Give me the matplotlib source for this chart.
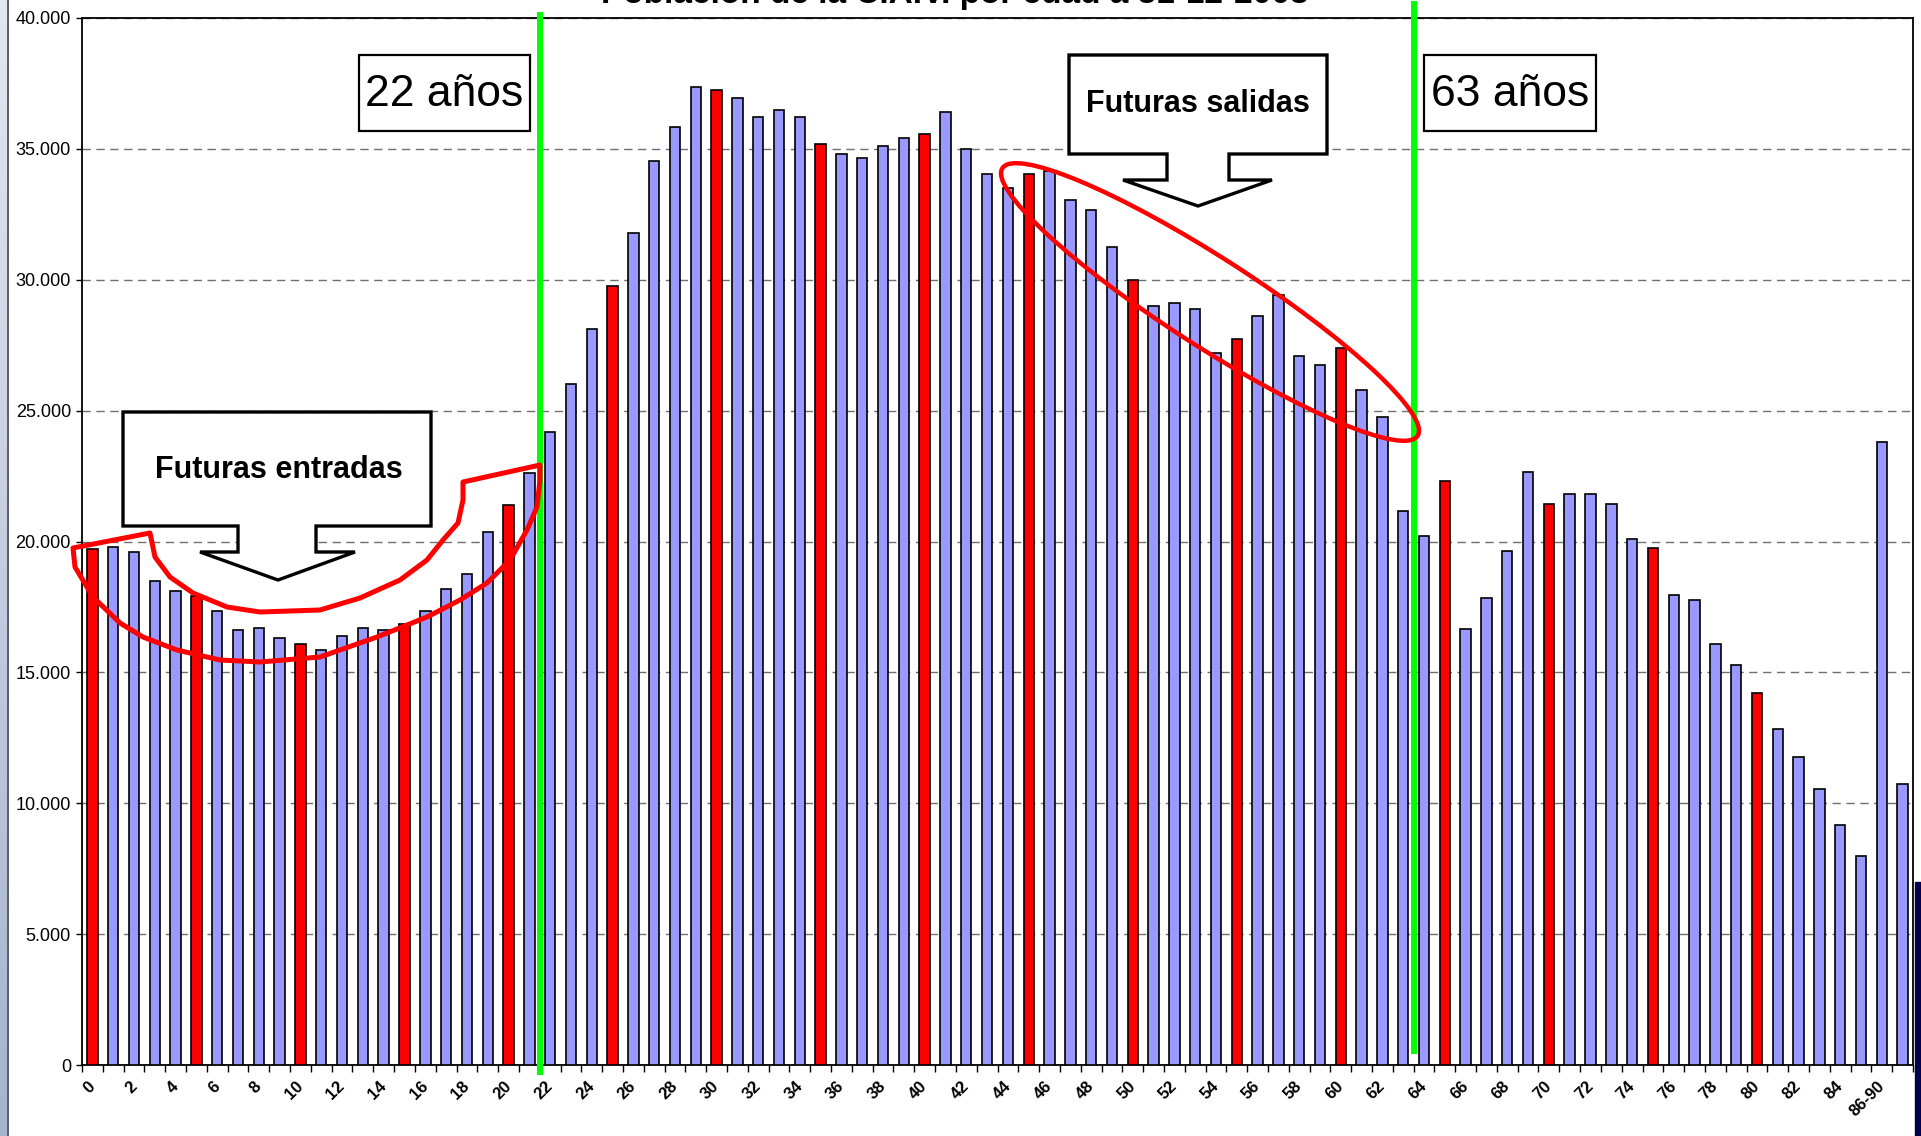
import matplotlib
matplotlib.use("Agg")
import matplotlib.pyplot as plt
from matplotlib.patches import Polygon, Ellipse, Rectangle
from matplotlib.transforms import Affine2D, ScaledTranslation
from matplotlib.ticker import FuncFormatter, MultipleLocator
import numpy as np

W, H = 1921, 1136

# datos: poblacion por edad (se leen del grafico)
edades = [str(i) for i in range(86)] + ["86-90", "+90"]
poblacion = [
    19700, 19800, 19600, 18500, 18100, 17900, 17350, 16600, 16700, 16300,
    16100, 15850, 16400, 16700, 16600, 16850, 17350, 18200, 18750, 20350,
    21400, 22600, 24200, 26000, 28100, 29750, 31800, 34550, 35850, 37350,
    37250, 36950, 36200, 36500, 36200, 35200, 34800, 34650, 35100, 35400,
    35550, 36400, 35000, 34050, 33500, 34050, 34150, 33050, 32650, 31250,
    30000, 29000, 29100, 28900, 27200, 27750, 28600, 29400, 27100, 26750,
    27400, 25800, 24750, 21150, 20200, 22300, 16650, 17850, 19650, 22650,
    21450, 21800, 21800, 21450, 20100, 19750, 17950, 17750, 16100, 15300,
    14200, 12850, 11750, 10550, 9150, 8000, 23800, 10750,
]
marcadas = list(range(0, 81, 5))
limites_edad = [22, 64]  # primera edad a la derecha de cada linea verde
titulo = "Población de la C.A.V. por edad a 31-12-2008"

plt.rcParams["font.family"] = ["Liberation Sans", "DejaVu Sans"]

fig = plt.figure(figsize=(W / 100, H / 100), dpi=100)
fig.patch.set_facecolor("white")

# transformacion en pixeles (y hacia abajo)
pix = Affine2D().scale(1 / W, -1 / H).translate(0, 1) + fig.transFigure

ax = fig.add_axes([82 / W, 1 - 1065 / H, (1913 - 82) / W, (1065 - 18) / H])

x = np.arange(len(edades))
colores = ["#ff0000" if e in marcadas else "#9999ff" for e in range(len(edades))]
ax.bar(x, poblacion, width=0.5, color=colores, edgecolor="black", linewidth=1.2, zorder=3)

ax.set_xlim(-0.5, len(edades) - 0.5)
ax.set_ylim(0, 40000)
ax.yaxis.set_major_locator(MultipleLocator(5000))
ax.yaxis.set_major_formatter(FuncFormatter(lambda v, p: f"{int(v):,}".replace(",", ".")))
ax.grid(axis="y", color="#707070", linestyle=(0, (6, 4)), linewidth=1.0, zorder=0)
ax.tick_params(axis="y", labelsize=13, length=4, width=1, pad=4)

ax.set_xticks(x[::2])
ax.set_xticklabels(edades[::2], rotation=45, ha="right", va="top",
                   rotation_mode="anchor", fontsize=12, fontweight="bold")
ax.tick_params(axis="x", which="major", length=0, pad=10)
ax.set_xticks(np.arange(-0.5, len(edades)), minor=True)
ax.tick_params(axis="x", which="minor", length=5, width=1)
for lbl in ax.get_xticklabels():
    lbl.set_transform(lbl.get_transform() + ScaledTranslation(-5 / 100, 0, fig.dpi_scale_trans))

for s in ax.spines.values():
    s.set_linewidth(1.3)
    s.set_color("black")

# lineas verdes de 22 y 63 anos
ax.axvline(limites_edad[0] - 0.5, ymin=-0.007, ymax=1.003, color="#00ff00", lw=4.3,
           clip_on=False, zorder=5)
ax.axvline(limites_edad[1] - 0.5, ymin=0.013, ymax=1.013, color="#00ff00", lw=4.3,
           clip_on=False, zorder=5)

# titulo (cortado en la captura original)
fig.text(955 / W, 1 - 3 / H, titulo, ha="center", va="baseline", fontsize=24,
         fontweight="bold")

# bordes de la captura
grad = fig.add_axes([0, 0, 7 / W, 1])
grad.imshow(np.linspace(0, 1, 256).reshape(-1, 1), aspect="auto",
            cmap=matplotlib.colors.LinearSegmentedColormap.from_list("g", ["#e2e7f0", "#a6b3cf"]))
grad.axis("off")
fig.add_artist(plt.Line2D([7.5, 7.5], [0, H], transform=pix, color="#404050", lw=1.2))
fig.add_artist(Rectangle((1915, 882), 6, 254, transform=pix, color="#00004d", zorder=6))

# cajas de texto "22 anos" / "63 anos"
for (x0, x1), txt in [((359, 530), "22 años"), ((1424, 1596), "63 años")]:
    fig.add_artist(Rectangle((x0, 55), x1 - x0, 76, transform=pix, facecolor="white",
                             edgecolor="black", lw=1.6, zorder=7))
    fig.text((x0 + x1) / 2 / W, 1 - 94 / H, txt, ha="center", va="center",
             fontsize=32, zorder=8)


def flecha(bx0, bx1, by0, by1, sx0, sx1, sy, wx0, wx1, tip):
    return [(bx0, by0), (bx1, by0), (bx1, by1), (sx1, by1), (sx1, sy), (wx1, sy),
            tip, (wx0, sy), (sx0, sy), (sx0, by1), (bx0, by1)]


ent = flecha(123, 431, 412, 526, 238, 316, 552, 200, 355, (278, 580))
sal = flecha(1069, 1327, 55, 154, 1167, 1229, 180, 1123, 1272, (1198, 206))
for pts in (ent, sal):
    fig.add_artist(Polygon(pts, closed=True, transform=pix, facecolor="white",
                           edgecolor="black", lw=2.4, joinstyle="miter", zorder=7))
fig.text(279 / W, 1 - 470 / H, "Futuras entradas", ha="center", va="center",
         fontsize=22, fontweight="bold", zorder=8)
fig.text(1198 / W, 1 - 104 / H, "Futuras salidas", ha="center", va="center",
         fontsize=22, fontweight="bold", zorder=8)

# trazos rojos a mano
trazo = [(73, 548), (150, 533), (155, 557), (170, 577), (193, 593), (227, 607),
         (260, 612), (320, 610), (360, 598), (400, 580), (427, 560), (443, 540),
         (458, 523), (463, 500), (463, 482), (540, 465), (540, 480), (537, 507),
         (527, 530), (510, 560), (487, 583), (460, 600), (427, 617), (377, 637),
         (320, 657), (260, 662), (220, 660), (177, 650), (143, 637), (120, 623),
         (93, 597), (75, 567)]
fig.add_artist(Polygon(trazo, closed=True, transform=pix, fill=False,
                       edgecolor="#ff0000", lw=3.6, joinstyle="round", zorder=9))
fig.add_artist(Ellipse((1210, 302), 494, 88, angle=32.8, transform=pix, fill=False,
                       edgecolor="#ff0000", lw=3.2, zorder=9))

plt.savefig("out.png", dpi=100)
